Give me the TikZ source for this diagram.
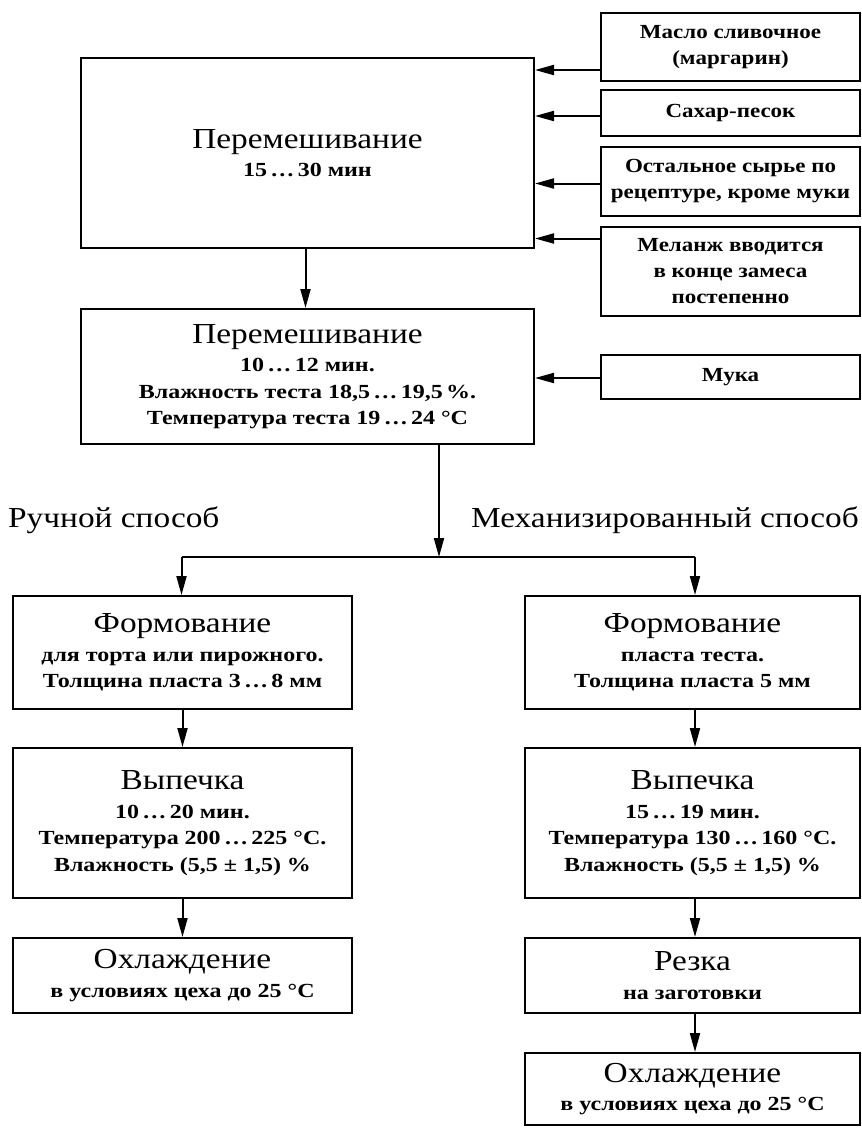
\documentclass[tikz,border=0pt]{standalone}
\usepackage{fontspec}
\setmainfont{Liberation Serif}
\newfontfamily\widettl[FakeStretch=1.15]{Liberation Serif}
\newfontfamily\widebold[FakeStretch=1.2]{Liberation Serif Bold}
\newfontfamily\wideboldr[FakeStretch=1.15]{Liberation Serif Bold}
\usetikzlibrary{arrows.meta,calc}
\newcommand{\ttl}{\widettl\fontsize{29}{30}\selectfont}
\newcommand{\sbt}{\widebold\fontsize{20}{26.5}\selectfont}
\newcommand{\rtx}{\wideboldr\fontsize{20}{26}\selectfont}
\tikzset{
  box/.style={draw, line width=2pt, anchor=north west, align=center, inner sep=0pt, font=\sbt},
  ibox/.style={box, minimum width=259pt, font=\rtx},
  arr/.style={line width=2pt, -{Triangle[length=19pt,width=10pt]}},
  ln/.style={line width=2pt}
}
\begin{document}
\begin{tikzpicture}[x=1pt,y=-1pt]
\useasboundingbox (0,0) rectangle (862,1128);
% main column
\node[box, minimum width=453pt, minimum height=190pt] (m1) at (80,57)
  {{\ttl Перемешивание}\\[2pt]15\,…\,30 мин};
\node[box, minimum width=453pt, minimum height=135pt] (m2) at (80,308)
  {{\ttl Перемешивание}\\[2pt]10\,…\,12 мин.\\Влажность теста 18,5\,…\,19,5\,\%.\\Температура теста 19\,…\,24 °C};
% ingredients
\node[ibox, minimum height=68pt] (i1) at (600,12) {Масло сливочное\\(маргарин)};
\node[ibox, minimum height=46pt] (i2) at (600,89) {Сахар-песок};
\node[ibox, minimum height=69pt] (i3) at (600,146) {Остальное сырье по\\рецептуре, кроме муки};
\node[ibox, minimum height=89pt] (i4) at (600,226) {Меланж вводится\\в конце замеса\\постепенно};
\node[ibox, minimum height=44pt] (i5) at (600,354) {Мука};
% arrows from ingredients
\draw[arr] ([yshift=-23pt]i1.west) coordinate (a1) -- (a1 -| m1.east);
\draw[arr] ([yshift=-3pt]i2.west) coordinate (a2) -- (a2 -| m1.east);
\draw[arr] ([yshift=-2pt]i3.west) coordinate (a3) -- (a3 -| m1.east);
\draw[arr] ([yshift=33pt]i4.west) coordinate (a4) -- (a4 -| m1.east);
\draw[arr] ([yshift=-1pt]i5.west) coordinate (a5) -- (a5 -| m2.east);
\draw[arr] ([xshift=-2pt]m1.south) -- ([xshift=-2pt]m2.north);
% branch labels
\node[anchor=west, inner sep=0pt, font=\ttl] (lh) at (8,520) {Ручной способ};
\node[anchor=east, inner sep=0pt, font=\ttl] (lm) at (859,520) {Механизированный способ};
% left branch
\node[box, minimum width=339pt, minimum height=113pt] (l1) at (12,595)
  {{\ttl Формование}\\[2pt]для торта или пирожного.\\Толщина пласта 3\,…\,8 мм};
\node[box, minimum width=339pt, minimum height=150pt] (l2) at (12,747)
  {{\ttl Выпечка}\\[2pt]10\,…\,20 мин.\\Температура 200\,…\,225 °C.\\Влажность (5,5 ± 1,5) \%};
\node[box, minimum width=339pt, minimum height=75pt] (l3) at (12,937)
  {{\ttl Охлаждение}\\[2pt]в условиях цеха до 25 °C};
% right branch
\node[box, minimum width=335pt, minimum height=113pt] (r1) at (524,595)
  {{\ttl Формование}\\[2pt]пласта теста.\\Толщина пласта 5 мм};
\node[box, minimum width=335pt, minimum height=150pt] (r2) at (524,747)
  {{\ttl Выпечка}\\[2pt]15\,…\,19 мин.\\Температура 130\,…\,160 °C.\\Влажность (5,5 ± 1,5) \%};
\node[box, minimum width=335pt, minimum height=75pt] (r3) at (524,937)
  {{\ttl Резка}\\[2pt]на заготовки};
\node[box, minimum width=335pt, minimum height=72pt] (r4) at (524,1052)
  {{\ttl Охлаждение}\\[2pt]в условиях цеха до 25 °C};
% split
\coordinate (j) at (439,557);
\coordinate (jl) at (181.5,557);
\coordinate (jr) at (695,557);
\draw[arr] (m2.south -| j) -- (j);
\draw[ln] (jl) -- (jr);
\draw[arr] (jl) -- (jl |- l1.north);
\draw[arr] (jr) -- (jr |- r1.north);
% chains
\draw[arr] (l1.south) -- (l2.north);
\draw[arr] (l2.south) -- (l3.north);
\draw[arr] (r1.south -| jr) -- (r2.north -| jr);
\draw[arr] (r2.south -| jr) -- (r3.north -| jr);
\draw[arr] (r3.south -| jr) -- (r4.north -| jr);
\end{tikzpicture}
\end{document}
